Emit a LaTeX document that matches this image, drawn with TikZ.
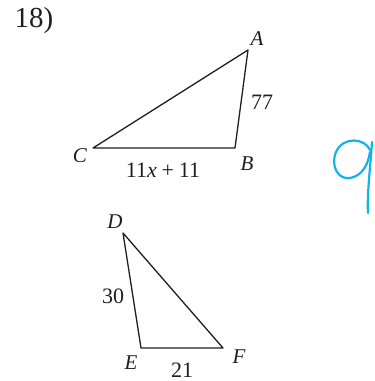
\documentclass[tikz,border=0pt]{standalone}
\usepackage{fontspec}
\setmainfont{Liberation Serif}
\definecolor{inkline}{gray}{0.12}
\definecolor{penblue}{RGB}{20,178,235}
\tikzset{
  side/.style={draw=inkline,line width=1.3pt,line join=round},
  vlab/.style={font=\fontsize{21}{21}\selectfont\itshape,text=inkline,inner sep=0pt},
  slab/.style={font=\fontsize{22}{22}\selectfont,text=inkline,inner sep=0pt},
  numlab/.style={font=\fontsize{29}{29}\selectfont,text=inkline,inner sep=0pt},
  hand/.style={draw=penblue,line width=2.2pt,line cap=round,line join=round},
}
\begin{document}
\begin{tikzpicture}[x=1pt,y=-1pt]
  \useasboundingbox (0,0) rectangle (375,381);
  \node[numlab] (num) at (34,21) {18)};
  % upper triangle
  \coordinate (A) at (248,50);
  \coordinate (B) at (235,148);
  \coordinate (C) at (93,148);
  \draw[side] (A) -- (B) -- (C) -- cycle;
  \node[vlab] (labA) at (257,39) {A};
  \node[vlab] (labB) at (247,164) {B};
  \node[vlab] (labC) at (80,156) {C};
  \node[slab] (sAB) at (262,102) {77};
  \node[slab] (sBC) at (163,170) {11\textit{x}\hspace{0.22em}+\hspace{0.22em}11};
  % lower triangle
  \coordinate (D) at (123,233);
  \coordinate (E) at (141,348);
  \coordinate (F) at (223,348);
  \draw[side] (D) -- (E) -- (F) -- cycle;
  \node[vlab] (labD) at (115,222) {D};
  \node[vlab] (labE) at (131,363) {E};
  \node[vlab] (labF) at (239,357) {F};
  \node[slab] (sDE) at (113,296) {30};
  \node[slab] (sEF) at (182,370) {21};
  % handwritten answer
  \draw[hand] (370,150) .. controls (365,138) and (343,136) .. (336,152)
    .. controls (330,167) and (339,180) .. (350,178)
    .. controls (362,176) and (368,165) .. (370,152);
  \draw[hand] (372,142) .. controls (370,170) and (367,195) .. (368,213);
\end{tikzpicture}
\end{document}
